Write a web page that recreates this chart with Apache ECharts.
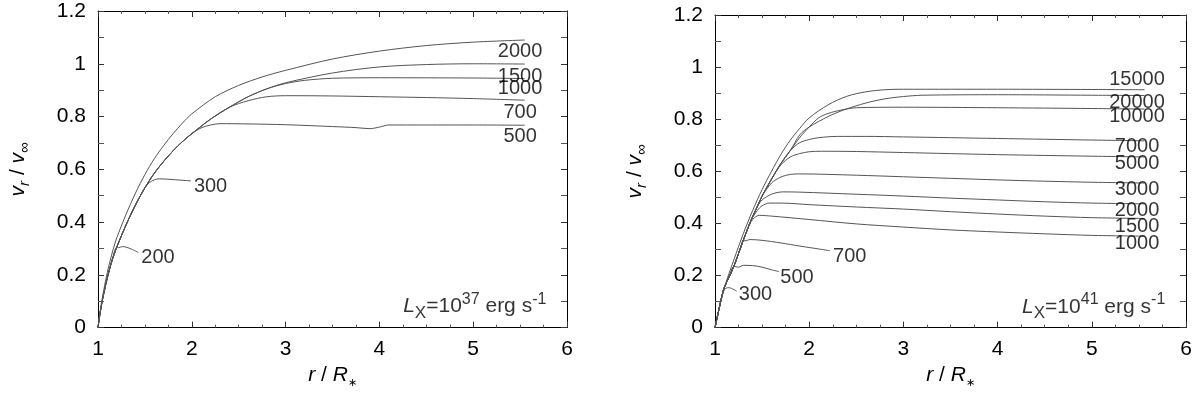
<!DOCTYPE html>
<html>
<head>
<meta charset="utf-8">
<script src="https://cdn.jsdelivr.net/npm/echarts@6/dist/echarts.min.js"></script>
<style>
  html, body { margin: 0; padding: 0; background: #fff; }
  #main { width: 1200px; height: 393px; }
</style>
</head>
<body>
<div id="main"></div>
<script>
// ---- data: [r/R*, vr/vinf] ----

// left panel, Lx = 1e37
var riseL = [[1.0,0],[1.02,0.05],[1.05,0.11],[1.1,0.19],[1.15,0.255],[1.2,0.305],[1.3,0.39],[1.4,0.465],[1.5,0.53],[1.6,0.585],[1.7,0.63],[1.8,0.67],[1.9,0.705],[2.0,0.735],[2.2,0.79],[2.4,0.835]];
var l200  = [[1.22,0.303],[1.26,0.307],[1.3,0.305],[1.36,0.297],[1.43,0.285]];
var l300  = [[1.55,0.55],[1.6,0.56],[1.65,0.564],[1.8,0.561],[1.99,0.556]];
var l500  = [[2.1,0.757],[2.2,0.768],[2.3,0.773],[2.6,0.772],[3.0,0.769],[3.5,0.762],[3.75,0.758],[3.9,0.754],[4.0,0.76],[4.1,0.768],[4.5,0.768],[5.0,0.768],[5.55,0.767]];
var l700  = [[2.6,0.86],[2.8,0.875],[3.0,0.879],[3.5,0.878],[4.0,0.875],[4.5,0.872],[5.0,0.868],[5.55,0.862]];
var l1000 = [[2.6,0.875],[2.8,0.905],[3.0,0.925],[3.2,0.937],[3.5,0.945],[4.0,0.947],[5.0,0.946],[5.55,0.944]];
var l1500 = [[2.6,0.875],[2.8,0.905],[3.0,0.928],[3.5,0.965],[4.0,0.988],[4.5,0.997],[5.0,1.0],[5.55,0.999]];
var l2000 = [[1.0,0],[1.02,0.055],[1.05,0.12],[1.1,0.21],[1.16,0.295],[1.2,0.34],[1.3,0.43],[1.4,0.51],[1.5,0.58],[1.6,0.64],[1.7,0.69],[1.8,0.735],[1.9,0.775],[2.0,0.81],[2.25,0.875],[2.5,0.918],[2.75,0.95],[3.0,0.975],[3.5,1.018],[4.0,1.048],[4.5,1.069],[5.0,1.082],[5.55,1.09]];
var labelsL = [[5.5,1.048,'2000'],[5.5,0.952,'1500'],[5.5,0.907,'1000'],[5.5,0.816,'700'],[5.5,0.726,'500'],[2.2,0.533,'300'],[1.64,0.265,'200']];

// right panel, Lx = 1e41
var riseR = [[1.0,0],[1.03,0.05],[1.06,0.1],[1.08,0.13],[1.1,0.155],[1.15,0.195],[1.2,0.235],[1.27,0.305],[1.3,0.335],[1.38,0.41],[1.45,0.465],[1.5,0.505],[1.6,0.57],[1.7,0.63],[1.8,0.68],[1.9,0.73],[2.0,0.77]];
var r300   = [[1.1,0.145],[1.12,0.152],[1.15,0.153],[1.2,0.146],[1.23,0.14]];
var r500   = [[1.25,0.232],[1.3,0.239],[1.4,0.238],[1.5,0.232],[1.6,0.222],[1.68,0.215]];
var r700   = [[1.32,0.333],[1.37,0.338],[1.5,0.335],[1.7,0.325],[1.9,0.313],[2.1,0.302],[2.22,0.295]];
var r1000  = [[1.38,0.405],[1.42,0.422],[1.47,0.431],[1.6,0.428],[2.0,0.415],[2.5,0.398],[3.0,0.386],[3.5,0.375],[4.0,0.367],[4.5,0.36],[5.0,0.354],[5.56,0.351]];
var r1500  = [[1.45,0.45],[1.5,0.468],[1.58,0.478],[1.7,0.478],[2.0,0.472],[2.5,0.463],[3.0,0.455],[3.5,0.445],[4.0,0.436],[4.5,0.428],[5.0,0.422],[5.56,0.419]];
var r2000  = [[1.5,0.49],[1.6,0.512],[1.72,0.521],[1.9,0.52],[2.5,0.512],[3.0,0.505],[3.5,0.497],[4.0,0.49],[4.5,0.483],[5.0,0.478],[5.56,0.475]];
var r3000  = [[1.6,0.555],[1.7,0.578],[1.8,0.588],[1.9,0.59],[2.5,0.585],[3.0,0.579],[3.5,0.573],[4.0,0.567],[4.5,0.562],[5.0,0.558],[5.56,0.555]];
var r5000  = [[1.7,0.625],[1.8,0.655],[1.9,0.668],[2.0,0.675],[2.13,0.677],[2.5,0.676],[3.0,0.672],[4.0,0.664],[5.0,0.658],[5.56,0.655]];
var r7000  = [[1.8,0.68],[1.9,0.71],[2.0,0.722],[2.1,0.729],[2.3,0.734],[2.6,0.734],[3.0,0.732],[4.0,0.726],[5.0,0.72],[5.56,0.717]];
var r10000 = [[2.1,0.805],[2.2,0.822],[2.35,0.836],[2.5,0.844],[3.0,0.846],[4.0,0.844],[5.0,0.841],[5.56,0.839]];
var r15000 = [[1.0,0],[1.03,0.05],[1.06,0.1],[1.1,0.155],[1.2,0.26],[1.3,0.36],[1.4,0.45],[1.5,0.53],[1.6,0.6],[1.7,0.665],[1.8,0.72],[1.9,0.765],[2.0,0.805],[2.2,0.855],[2.4,0.888],[2.6,0.905],[2.8,0.913],[3.0,0.915],[4.0,0.915],[5.0,0.914],[5.56,0.913]];
var r20000 = [[1.9,0.74],[2.0,0.77],[2.2,0.81],[2.37,0.836],[2.6,0.862],[2.8,0.878],[3.0,0.887],[3.2,0.892],[4.0,0.894],[5.0,0.892],[5.56,0.891]];
var labelsR = [[5.48,0.951,'15000'],[5.48,0.864,'20000'],[5.48,0.81,'10000'],[5.48,0.695,'7000'],[5.48,0.631,'5000'],[5.48,0.529,'3000'],[5.48,0.45,'2000'],[5.48,0.388,'1500'],[5.48,0.321,'1000'],[2.43,0.273,'700'],[1.87,0.194,'500'],[1.43,0.127,'300']];

var xTicks = {min: 1, max: 6, interval: 1};
var yTicks = {min: 0, max: 1.2, interval: 0.2};

// follow the shared rising part, then the curve's own branch
function withRise(rise, tail) {
    return rise.filter(function (p) { return p[0] < tail[0][0]; }).concat(tail);
}

var FONT = "'Liberation Sans', Arial, sans-serif";
var dom = document.getElementById('main');
var myChart = echarts.init(dom);

function xAx(grid, top) {
    return {
        gridIndex: grid, type: 'value', position: top ? 'top' : 'bottom',
        min: xTicks.min, max: xTicks.max, interval: xTicks.interval,
        axisLine: {show: true, onZero: false, lineStyle: {color: '#000', width: 1}},
        axisTick: {show: true, inside: true, length: 6, lineStyle: {color: '#333'}},
        minorTick: {show: true, splitNumber: 4, length: 3, lineStyle: {color: '#555'}},
        splitLine: {show: false},
        axisLabel: {show: !top, color: '#000', fontSize: 21, fontFamily: FONT, margin: 11},
        name: top ? '' : '{i|r} / {i|R}{sub|∗}',
        nameLocation: 'middle', nameGap: 31,
        nameTextStyle: {
            color: '#000', fontSize: 21, fontFamily: FONT,
            rich: {
                i: {fontSize: 21, fontStyle: 'italic', fontFamily: FONT, lineHeight: 26, verticalAlign: 'middle'},
                sub: {fontSize: 11, fontFamily: FONT, lineHeight: 9, verticalAlign: 'bottom'}
            }
        }
    };
}
function yAx(grid, right) {
    return {
        gridIndex: grid, type: 'value', position: right ? 'right' : 'left',
        min: yTicks.min, max: yTicks.max, interval: yTicks.interval,
        axisLine: {show: true, onZero: false, lineStyle: {color: '#000', width: 1}},
        axisTick: {show: true, inside: true, length: 6, lineStyle: {color: '#333'}},
        minorTick: {show: true, splitNumber: 2, length: 6, lineStyle: {color: '#555'}},
        splitLine: {show: false},
        axisLabel: {
            show: !right, color: '#000', fontSize: 21, fontFamily: FONT, margin: 12,
            formatter: function (v) { return String(Math.round(v * 10) / 10); }
        },
        name: right ? '' : '{i|v}{sub|r} / {i|v}{sub|∞}',
        nameLocation: 'middle', nameGap: 66, nameRotate: 90,
        nameTextStyle: {
            color: '#000', fontSize: 21, fontFamily: FONT,
            rich: {
                i: {fontSize: 21, fontStyle: 'italic', fontFamily: FONT, lineHeight: 28, verticalAlign: 'middle'},
                sub: {fontSize: 15, fontStyle: 'italic', fontFamily: FONT, lineHeight: 12, verticalAlign: 'bottom'}
            }
        }
    };
}

function curve(data, g) {
    return {
        type: 'line', xAxisIndex: g * 2, yAxisIndex: g * 2, data: data,
        showSymbol: false, symbol: 'none', smooth: 0.3, silent: true,
        lineStyle: {color: '#555', width: 1}
    };
}
function labels(list, g) {
    return {
        type: 'scatter', xAxisIndex: g * 2, yAxisIndex: g * 2, symbolSize: 1, silent: true,
        itemStyle: {color: 'rgba(0,0,0,0)'}, z: 10,
        data: list.map(function (p) { return {value: [p[0], p[1]], name: p[2]}; }),
        label: {show: true, position: 'inside', formatter: '{b}', color: '#000', fontSize: 20, fontFamily: FONT}
    };
}
function lxNote(g, exp) {
    return {
        type: 'scatter', xAxisIndex: g * 2, yAxisIndex: g * 2, symbolSize: 1, silent: true,
        itemStyle: {color: 'rgba(0,0,0,0)'}, z: 10,
        data: [{value: [5.78, 0.08], name: exp}],
        label: {
            show: true, position: 'inside', align: 'right',
            formatter: '{i|L}{sub|X}{n|=10}{sup|' + exp + '}{n| erg s}{sup|-1}',
            rich: {
                i: {fontSize: 21, fontStyle: 'italic', fontFamily: FONT, color: '#000', lineHeight: 30, verticalAlign: 'middle'},
                n: {fontSize: 21, fontFamily: FONT, color: '#000', lineHeight: 30, verticalAlign: 'middle'},
                sub: {fontSize: 17, fontFamily: FONT, color: '#000', lineHeight: 14, verticalAlign: 'bottom'},
                sup: {fontSize: 16, fontFamily: FONT, color: '#000', lineHeight: 14, verticalAlign: 'top'}
            }
        }
    };
}

var option = {
    animation: false,
    backgroundColor: '#fff',
    grid: [
        {left: 98, top: 11, width: 469, height: 317},
        {left: 715, top: 15, width: 471, height: 313}
    ],
    xAxis: [xAx(0, false), xAx(0, true), xAx(1, false), xAx(1, true)],
    yAxis: [yAx(0, false), yAx(0, true), yAx(1, false), yAx(1, true)],
    series: [
        curve(withRise(riseL, l200), 0),
        curve(withRise(riseL, l300), 0),
        curve(withRise(riseL, l500), 0),
        curve(withRise(riseL, l700), 0),
        curve(withRise(riseL, l1000), 0),
        curve(withRise(riseL, l1500), 0),
        curve(l2000, 0),
        labels(labelsL, 0),
        lxNote(0, '37'),
        curve(withRise(riseR, r300), 1),
        curve(withRise(riseR, r500), 1),
        curve(withRise(riseR, r700), 1),
        curve(withRise(riseR, r1000), 1),
        curve(withRise(riseR, r1500), 1),
        curve(withRise(riseR, r2000), 1),
        curve(withRise(riseR, r3000), 1),
        curve(withRise(riseR, r5000), 1),
        curve(withRise(riseR, r7000), 1),
        curve(withRise(riseR, r10000), 1),
        curve(r15000, 1),
        curve(withRise(riseR, r20000), 1),
        labels(labelsR, 1),
        lxNote(1, '41')
    ]
};
if (option && typeof option === "object") {
    myChart.setOption(option, true);
}
</script>
</body>
</html>
